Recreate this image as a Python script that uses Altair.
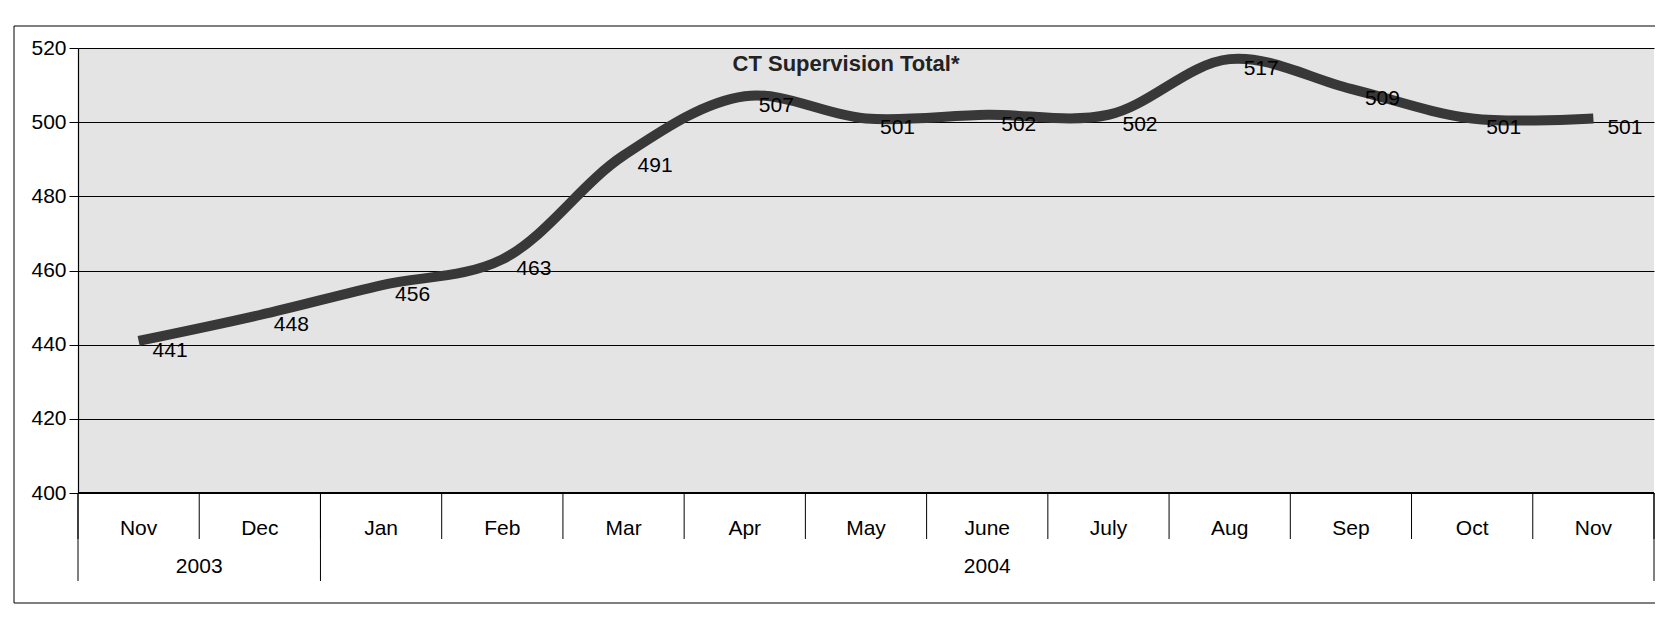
import altair as alt
import pandas as pd

months = ["Nov", "Dec", "Jan", "Feb", "Mar", "Apr", "May", "June", "July", "Aug", "Sep", "Oct", "Nov"]
years = ["2003", "2003", "2004", "2004", "2004", "2004", "2004", "2004", "2004", "2004", "2004", "2004", "2004"]
values = [441, 448, 456, 463, 491, 507, 501, 502, 502, 517, 509, 501, 501]
y_ticks = [400, 420, 440, 460, 480, 500, 520]
title_text = "CT Supervision Total*"

W, H = 1576, 445
FONT = "Liberation Sans"
FS = 21

df = pd.DataFrame({"idx": list(range(len(months))), "month": months, "year": years, "value": values})

n = len(months)
month_div = pd.DataFrame({"pos": [i - 0.5 for i in range(n + 1)]})
year_edges = [-0.5] + [i - 0.5 for i in range(1, n) if years[i] != years[i - 1]] + [n - 0.5]
year_div = pd.DataFrame({"pos": year_edges})
year_lab = pd.DataFrame({
    "year": [years[int(year_edges[k] + 0.5)] for k in range(len(year_edges) - 1)],
    "center": [(year_edges[k] + year_edges[k + 1]) / 2 for k in range(len(year_edges) - 1)],
})

xs = alt.Scale(domain=[-0.5, n - 0.5], nice=False, zero=False)
ys = alt.Scale(domain=[400, 520], nice=False, zero=False)

base = alt.Chart(df)

line = base.mark_line(interpolate="catmull-rom", color="#383838", strokeWidth=10, strokeCap="butt").encode(
    x=alt.X("idx:Q", scale=xs, axis=None),
    y=alt.Y("value:Q", scale=ys, title=None,
            axis=alt.Axis(values=y_ticks, grid=True, gridColor="black", gridWidth=1.2, gridOpacity=1,
                          domainColor="black", domainWidth=1.2, tickColor="black", tickSize=9,
                          labelFontSize=FS, labelFont=FONT, labelColor="black", labelPadding=3)),
)

labels = base.mark_text(align="left", baseline="middle", dx=14, dy=10, fontSize=FS, font=FONT, color="black").encode(
    x=alt.X("idx:Q", scale=xs), y=alt.Y("value:Q", scale=ys), text="value:Q"
)

month_text = base.mark_text(fontSize=FS, font=FONT, color="black", baseline="middle").encode(
    x=alt.X("idx:Q", scale=xs), y=alt.value(H + 36), text="month:N"
)

year_text = alt.Chart(year_lab).mark_text(fontSize=FS, font=FONT, color="black", baseline="middle").encode(
    x=alt.X("center:Q", scale=xs), y=alt.value(H + 74), text="year:N"
)

mdiv = alt.Chart(month_div).mark_rule(color="black", strokeWidth=1).encode(
    x=alt.X("pos:Q", scale=xs), y=alt.value(H), y2=alt.value(H + 46)
)
ydiv = alt.Chart(year_div).mark_rule(color="black", strokeWidth=1).encode(
    x=alt.X("pos:Q", scale=xs), y=alt.value(H), y2=alt.value(H + 88)
)
bottom = alt.Chart(df).mark_rule(color="black", strokeWidth=1.2).encode(
    x=alt.value(0), x2=alt.value(W), y=alt.value(H)
)

title = alt.Chart(pd.DataFrame({"t": [title_text]})).mark_text(
    fontSize=22, fontWeight="bold", font=FONT, color="#222", baseline="middle"
).encode(x=alt.value(W / 2 - 20), y=alt.value(16), text="t:N")

border = alt.Chart(pd.DataFrame({"a": [0]})).mark_rect(fill=None, stroke="black", strokeWidth=1).encode(
    x=alt.value(-64), x2=alt.value(W + 4), y=alt.value(-22), y2=alt.value(H + 110)
)

chart = alt.layer(border, line, labels, month_text, year_text, mdiv, ydiv, bottom, title).properties(
    width=W, height=H,
    autosize=alt.AutoSizeParams(type="none"),
    padding={"left": 70, "top": 40, "right": 1, "bottom": 118},
    background="white",
).configure_view(fill="#e4e4e4", stroke=None)

chart.save("out.html", embed_options={"renderer": "svg", "actions": False})
